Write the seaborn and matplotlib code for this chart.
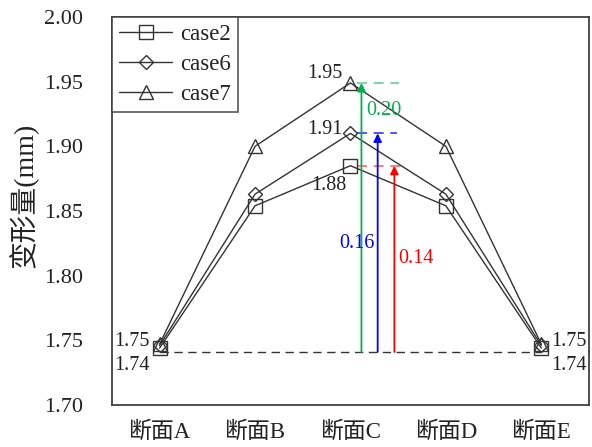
import matplotlib
matplotlib.use("Agg")
import matplotlib.pyplot as plt
import seaborn as sns
import pandas as pd

# Deformation at five cross-sections for three load cases
sections = ["断面A", "断面B", "断面C", "断面D", "断面E"]
cases = ["case2", "case6", "case7"]
case2 = [1.744, 1.854, 1.885, 1.854, 1.744]
case6 = [1.746, 1.863, 1.910, 1.863, 1.746]
case7 = [1.747, 1.900, 1.949, 1.900, 1.747]
baseline = 1.741

# Increase annotations at section C (relative to the baseline)
gain_labels = ["0.20", "0.16", "0.14"]
gain_peaks = [1.949, 1.910, 1.885]
gain_colors = ["#00b050", "#0000ff", "#ff0000"]
gain_dash_colors = ["#66cc99", "#3333ff", "#ff6666"]

yticks = [1.70, 1.75, 1.80, 1.85, 1.90, 1.95, 2.00]

sns.set_style("white")
plt.rcParams["font.family"] = ["Liberation Serif", "Noto Sans CJK SC"]
plt.rcParams["axes.unicode_minus"] = False

rows = []
for name, vals in zip(cases, [case2, case6, case7]):
    for i, v in enumerate(vals):
        rows.append({"pos": i, "section": sections[i], "value": v, "case": name})
df = pd.DataFrame(rows)

fig = plt.figure(figsize=(5.92, 4.47), dpi=100)
ax = fig.add_axes([0.189, 0.094, 0.806, 0.868])

ink = "#333333"
sns.lineplot(data=df, x="pos", y="value", style="case", style_order=cases,
             markers={"case2": "s", "case6": "D", "case7": "^"}, dashes=False,
             color=ink, linewidth=1.0, markersize=10, fillstyle="none",
             markeredgecolor=ink, markeredgewidth=1.0, legend=False, ax=ax)
data_lines = list(ax.lines[:3])
for ln in data_lines:
    if ln.get_marker() == "D":
        ln.set_markersize(7.5)

# Baseline through the end sections
ax.plot([0, 4], [baseline, baseline], color=ink, lw=1.0, ls=(0, (6, 4)), zorder=1)

# Increase arrows at section C
arrow_x = [2.115, 2.285, 2.46]
dash_end = [2.51, 2.49, 2.57]
for x, top, end, c, dc in zip(arrow_x, gain_peaks, dash_end, gain_colors, gain_dash_colors):
    ax.plot([2.07, end], [top, top], color=dc, lw=1.2, ls=(0, (6, 4)), zorder=1)
    ax.annotate("", xy=(x, top), xytext=(x, baseline),
                arrowprops=dict(arrowstyle="-|>", color=c, lw=1.3,
                                mutation_scale=12, shrinkA=0, shrinkB=0))

ax.text(2.17, 1.928, gain_labels[0], color=gain_colors[0], fontsize=14.5,
        ha="left", va="center")
ax.text(2.063, 1.8245, gain_labels[1], color=gain_colors[1], fontsize=14.5,
        ha="center", va="center")
ax.text(2.686, 1.813, gain_labels[2], color=gain_colors[2], fontsize=14.5,
        ha="center", va="center")

# Value labels
lab_kw = dict(textcoords="offset points", fontsize=14.5, color="#222222", va="center")
ax.annotate(f"{case7[2]:.2f}", (2, case7[2]), xytext=(-6, 7), ha="right", **lab_kw)
ax.annotate(f"{case6[2]:.2f}", (2, case6[2]), xytext=(-6, 3), ha="right", **lab_kw)
ax.annotate("1.88", (2, case2[2]), xytext=(-3, -14), ha="right", **lab_kw)
ax.annotate("1.75", (0, case7[0]), xytext=(-7, 2), ha="right", **lab_kw)
ax.annotate("1.74", (0, baseline), xytext=(-7, -9.5), ha="right", **lab_kw)
ax.annotate("1.75", (4, case7[-1]), xytext=(7, 2), ha="left", **lab_kw)
ax.annotate("1.74", (4, baseline), xytext=(7, -9.5), ha="left", **lab_kw)

ax.set_xlim(-0.5, 4.5)
ax.set_ylim(1.70, 2.00)
ax.set_xticks(range(len(sections)))
ax.set_xticklabels(sections)
ax.set_yticks(yticks)
ax.set_yticklabels([f"{t:.2f}" for t in yticks])
ax.tick_params(axis="both", length=0, labelsize=16, colors="#222222")
ax.tick_params(axis="x", labelsize=16.5, pad=12)
ax.tick_params(axis="y", pad=21)
ax.set_xlabel("")
ax.set_ylabel("变形量(mm)", fontsize=20, color="#222222")
ax.yaxis.set_label_coords(-0.153, 0.54)

for s in ax.spines.values():
    s.set_color("#404040")
    s.set_linewidth(1.3)

leg = ax.legend(data_lines, cases, loc="upper left", fontsize=16.5,
                frameon=True, fancybox=False, edgecolor="#404040",
                borderaxespad=0, handlelength=2.3, labelspacing=0.38,
                handletextpad=0.35, borderpad=0.32)
leg.get_frame().set_linewidth(1.3)
for t in leg.get_texts():
    t.set_color("#222222")

fig.savefig("out.png", dpi=100)
